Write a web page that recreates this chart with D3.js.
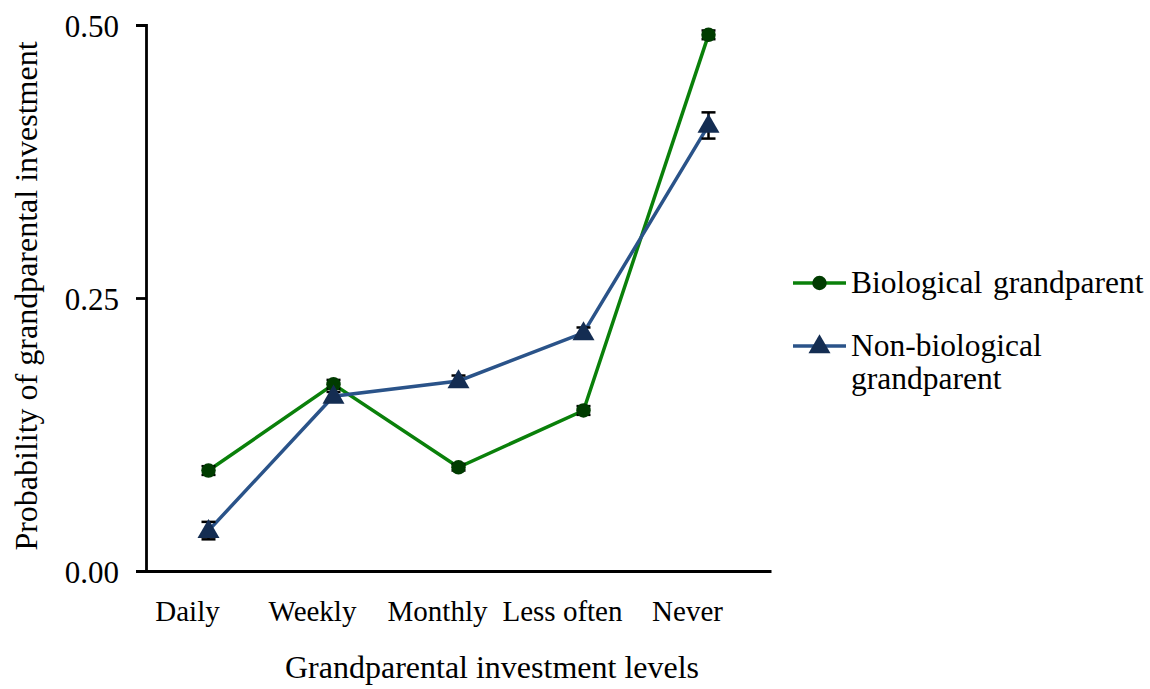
<!DOCTYPE html>
<html><head><meta charset="utf-8">
<script src="https://cdn.jsdelivr.net/npm/d3@7"></script>
</head><body style="margin:0;background:#fff">
<svg id="c" width="1150" height="689"></svg>
<script>
const categories = ["Daily","Weekly","Monthly","Less often","Never"];
const bioValues = [0.092,0.171,0.095,0.147,0.491];
const bioErrors = [0.004,0.004,0.003,0.004,0.004];
const nonBioValues = [0.037,0.160,0.174,0.218,0.408];
const nonBioErrors = [0.008,0.004,0.005,0.005,0.012];
const yTicks = [0,0.25,0.5];
const seriesNames = ["Biological grandparent","Non-biological grandparent"];

const FONT = '"Liberation Serif"';
const svg = d3.select("#c");
const x = d3.scaleBand().domain(categories).range([146,771]);
const y = d3.scaleLinear().domain([0,0.5]).range([571,25]);
const cx = d => x(d)+x.bandwidth()/2;

// axes
const yAx = svg.append("g").attr("transform","translate(146,0)")
  .call(d3.axisLeft(y).tickValues(yTicks).tickFormat(d3.format(".2f")).tickSizeOuter(0).tickSize(10).tickPadding(17));
yAx.attr("font-family",null);
yAx.select(".domain").attr("stroke","#000").attr("stroke-width",2.8);
yAx.selectAll(".tick line").attr("stroke","#000").attr("stroke-width",2.8);
yAx.selectAll(".tick text").attr("font-size",31).style("font-family",FONT).attr("dy","0.36em");

const xAx = svg.append("g").attr("transform","translate(0,571)")
  .call(d3.axisBottom(x).tickSize(0).tickSizeOuter(0).tickPadding(30));
xAx.attr("font-family",null);
xAx.select(".domain").attr("stroke","#000").attr("stroke-width",2.8);
xAx.selectAll(".tick text").attr("font-size",29).style("font-family",FONT).attr("dx",-21).attr("dy",0).attr("y",50);

svg.append("text").attr("x",492).attr("y",678).attr("text-anchor","middle").attr("font-size",32).style("font-family",FONT).text("Grandparental investment levels");
svg.append("text").attr("transform","translate(37,296) rotate(-90)").attr("text-anchor","middle").attr("font-size",32).style("font-family",FONT).text("Probability of grandparental investment");

const series = [
  {name:seriesNames[0], vals:bioValues, errs:bioErrors, line:"#0a800a", fill:"#003c00", shape:"circle"},
  {name:seriesNames[1], vals:nonBioValues, errs:nonBioErrors, line:"#2a5389", fill:"#142d52", shape:"triangle"}
];
const sym = s => d3.symbol().type(s.shape==="circle"?d3.symbolCircle:d3.symbolTriangle).size(s.shape==="circle"?165:210)();

series.forEach(s=>{
  const pts = categories.map((c,i)=>({c,v:s.vals[i],e:s.errs[i]}));
  svg.append("path").datum(pts).attr("fill","none").attr("stroke",s.line).attr("stroke-width",3.5)
    .attr("d",d3.line().x(d=>cx(d.c)).y(d=>y(d.v)));
});
series.forEach(s=>{
  const pts = categories.map((c,i)=>({c,v:s.vals[i],e:s.errs[i]}));
  const g = svg.append("g");
  pts.forEach(d=>{
    const X = cx(d.c);
    g.append("line").attr("x1",X).attr("x2",X).attr("y1",y(d.v+d.e)).attr("y2",y(d.v-d.e)).attr("stroke","#000").attr("stroke-width",2.5);
    [d.v+d.e,d.v-d.e].forEach(v=>g.append("line").attr("x1",X-7).attr("x2",X+7).attr("y1",y(v)).attr("y2",y(v)).attr("stroke","#000").attr("stroke-width",2.5));
    g.append("path").attr("d",sym(s)).attr("transform",`translate(${X},${y(d.v)+(s.shape==="triangle"?1:0)})`).attr("fill",s.fill);
  });
});

// legend
const lg = svg.append("g");
const rows = [{s:series[0], y:283, lines:["Biological grandparent"]},{s:series[1], y:346, lines:["Non-biological","grandparent"]}];
rows.forEach(r=>{
  lg.append("line").attr("x1",793).attr("x2",846).attr("y1",r.y).attr("y2",r.y).attr("stroke",r.s.line).attr("stroke-width",3.5);
  lg.append("path").attr("d",sym(r.s)).attr("transform",`translate(819.5,${r.y+(r.s.shape==="triangle"?1:0)})`).attr("fill",r.s.fill);
  const t = lg.append("text").attr("x",851).attr("y",r.y+10).attr("font-size",31.5).style("font-family",FONT).style("word-spacing","3px");
  r.lines.forEach((l,i)=>t.append("tspan").attr("x",851).attr("dy",i?33:0).text(l));
});
</script>
</body></html>
